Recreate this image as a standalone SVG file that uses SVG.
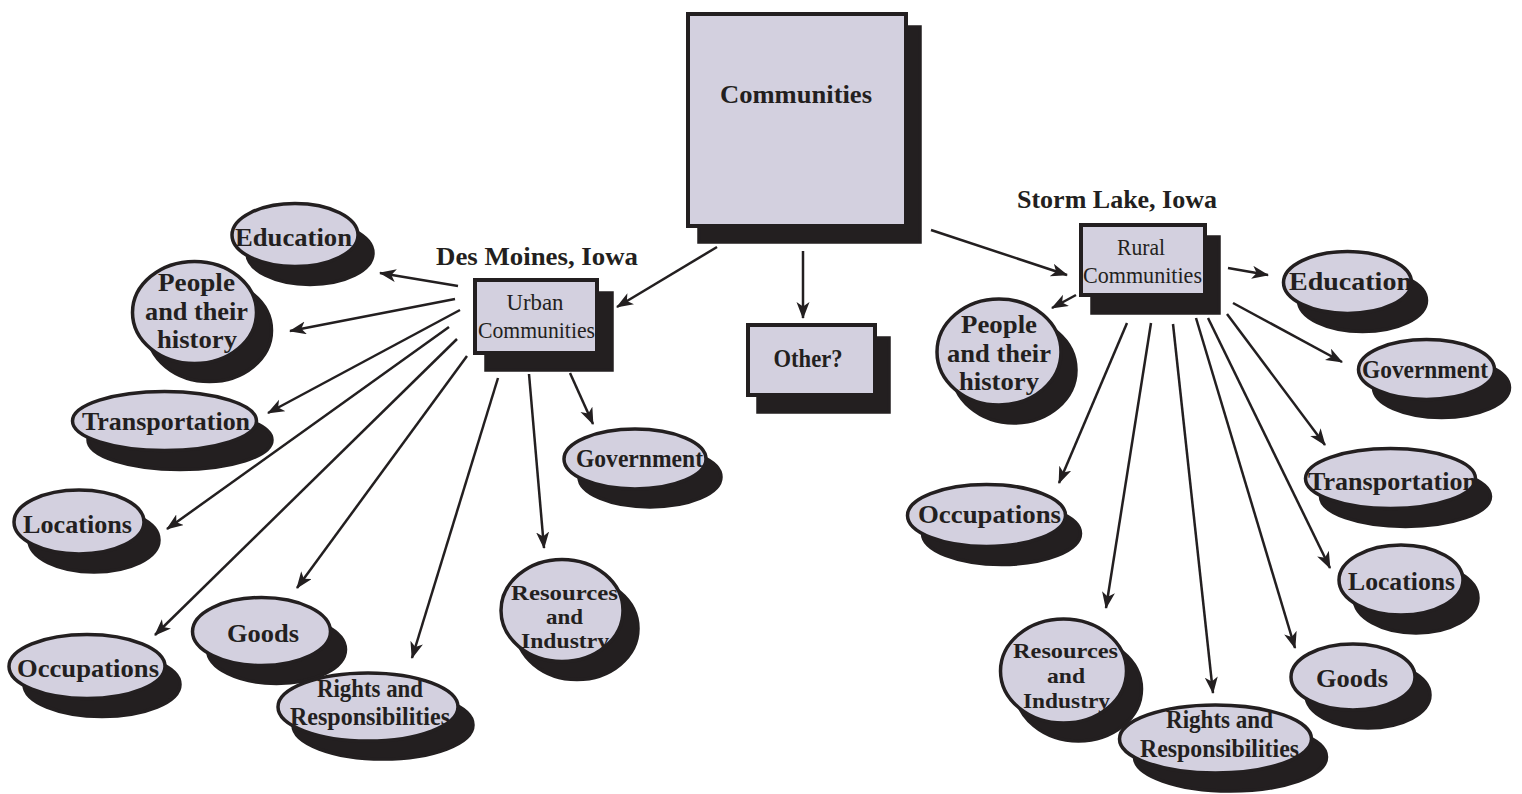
<svg xmlns="http://www.w3.org/2000/svg" width="1522" height="794" viewBox="0 0 1522 794">
<defs>
<style>
.bg{fill:#ffffff}
.box{fill:#d3d0df;stroke:#231f20;stroke-width:4}
.shadow{fill:#231f20;stroke:#231f20;stroke-width:3.5}
.oval{fill:#d3d0df;stroke:#231f20;stroke-width:3.5}
.lbl{font-family:"Liberation Serif","Times New Roman",serif;font-weight:bold;font-size:26px;fill:#231f20;text-anchor:middle}
.tight{font-size:22px}
.sub{font-family:"Liberation Serif","Times New Roman",serif;font-weight:normal;font-size:24px;fill:#231f20;text-anchor:middle}
.edge{fill:none;stroke:#231f20;stroke-width:2.5;marker-end:url(#arrow)}
</style>
<marker id="arrow" markerUnits="userSpaceOnUse" markerWidth="18" markerHeight="14" refX="16" refY="6.5" orient="auto">
<path d="M0,0 L17,6.5 L0,13 L4.5,6.5 Z" fill="#231f20"/>
</marker>
</defs>
<rect class="bg" x="0" y="0" width="1522" height="794"/>

<g id="communities">
<rect class="shadow" x="699" y="27" width="221" height="215" stroke-width="0"/>
<rect class="box" x="688" y="14" width="218" height="212"/>
<text class="lbl" x="796" y="103" textLength="152" lengthAdjust="spacingAndGlyphs">Communities</text>
</g>

<g id="other">
<rect class="shadow" x="758" y="338" width="131" height="74" stroke-width="0"/>
<rect class="box" x="748" y="325" width="127" height="70"/>
<text class="lbl" x="808" y="367" font-size="24" textLength="69" lengthAdjust="spacingAndGlyphs">Other?</text>
</g>

<g id="urban">
<text class="lbl" x="537" y="265" textLength="202" lengthAdjust="spacingAndGlyphs">Des Moines, Iowa</text>
<rect class="shadow" x="486" y="293" width="126" height="77" stroke-width="0"/>
<rect class="box" x="475" y="280" width="122" height="73"/>
<text class="sub" x="535" y="310" textLength="57" lengthAdjust="spacingAndGlyphs">Urban</text>
<text class="sub" x="536.5" y="338" textLength="117" lengthAdjust="spacingAndGlyphs">Communities</text>
</g>

<g id="rural">
<text class="lbl" x="1117" y="208" textLength="200" lengthAdjust="spacingAndGlyphs">Storm Lake, Iowa</text>
<rect class="shadow" x="1092" y="237" width="127" height="76" stroke-width="0"/>
<rect class="box" x="1081" y="225" width="124" height="70"/>
<text class="sub" x="1141" y="255" textLength="48" lengthAdjust="spacingAndGlyphs">Rural</text>
<text class="sub" x="1142.5" y="283" textLength="119" lengthAdjust="spacingAndGlyphs">Communities</text>
</g>

<!-- Left cluster -->
<g id="education-l">
<ellipse class="shadow" cx="310" cy="253" rx="63" ry="31.5"/>
<ellipse class="oval" cx="295" cy="235" rx="63" ry="31.5"/>
<text class="lbl" x="293.5" y="246" textLength="117" lengthAdjust="spacingAndGlyphs">Education</text>
</g>
<g id="people-l">
<ellipse class="shadow" cx="209.5" cy="330.5" rx="62" ry="51"/>
<ellipse class="oval" cx="194.5" cy="312.5" rx="62" ry="51"/>
<text class="lbl" x="196.5" y="291" textLength="77" lengthAdjust="spacingAndGlyphs">People</text>
<text class="lbl" x="196.5" y="320" textLength="103" lengthAdjust="spacingAndGlyphs">and their</text>
<text class="lbl" x="197" y="348" textLength="80" lengthAdjust="spacingAndGlyphs">history</text>
</g>
<g id="transportation-l">
<ellipse class="shadow" cx="180" cy="440" rx="92" ry="29.5"/>
<ellipse class="oval" cx="164.5" cy="421" rx="92" ry="29.5"/>
<text class="lbl" x="166" y="430" textLength="168" lengthAdjust="spacingAndGlyphs">Transportation</text>
</g>
<g id="locations-l">
<ellipse class="shadow" cx="94" cy="540" rx="65" ry="32"/>
<ellipse class="oval" cx="79" cy="522" rx="65" ry="32"/>
<text class="lbl" x="77.5" y="533" textLength="109" lengthAdjust="spacingAndGlyphs">Locations</text>
</g>
<g id="occupations-l">
<ellipse class="shadow" cx="102" cy="684.5" rx="78" ry="32"/>
<ellipse class="oval" cx="87" cy="666.5" rx="78" ry="32"/>
<text class="lbl" x="88" y="677" textLength="142" lengthAdjust="spacingAndGlyphs">Occupations</text>
</g>
<g id="goods-l">
<ellipse class="shadow" cx="276.5" cy="649.5" rx="69" ry="34"/>
<ellipse class="oval" cx="261.5" cy="631.5" rx="69" ry="34"/>
<text class="lbl" x="263" y="642" textLength="72" lengthAdjust="spacingAndGlyphs">Goods</text>
</g>
<g id="rights-l">
<ellipse class="shadow" cx="383" cy="725" rx="90" ry="34"/>
<ellipse class="oval" cx="368" cy="707" rx="90" ry="34"/>
<text class="lbl" x="370" y="697" textLength="106" lengthAdjust="spacingAndGlyphs">Rights and</text>
<text class="lbl" x="370" y="725" textLength="160" lengthAdjust="spacingAndGlyphs">Responsibilities</text>
</g>
<g id="resources-l">
<ellipse class="shadow" cx="577" cy="628.5" rx="61" ry="51"/>
<ellipse class="oval" cx="562" cy="610.5" rx="61" ry="51"/>
<text class="lbl tight" x="564.5" y="600" textLength="107" lengthAdjust="spacingAndGlyphs">Resources</text>
<text class="lbl tight" x="564.5" y="624" textLength="37" lengthAdjust="spacingAndGlyphs">and</text>
<text class="lbl tight" x="565" y="648" textLength="88" lengthAdjust="spacingAndGlyphs">Industry</text>
</g>
<g id="government-l">
<ellipse class="shadow" cx="650" cy="477" rx="71" ry="30"/>
<ellipse class="oval" cx="635" cy="459" rx="71" ry="30"/>
<text class="lbl" x="639.5" y="467" textLength="127" lengthAdjust="spacingAndGlyphs">Government</text>
</g>

<!-- Right cluster -->
<g id="people-r">
<ellipse class="shadow" cx="1014" cy="370" rx="62" ry="53"/>
<ellipse class="oval" cx="999" cy="352" rx="62" ry="53"/>
<text class="lbl" x="999" y="333" textLength="76" lengthAdjust="spacingAndGlyphs">People</text>
<text class="lbl" x="999" y="362" textLength="104" lengthAdjust="spacingAndGlyphs">and their</text>
<text class="lbl" x="999" y="390" textLength="80" lengthAdjust="spacingAndGlyphs">history</text>
</g>
<g id="education-r">
<ellipse class="shadow" cx="1362.5" cy="300.5" rx="64" ry="31"/>
<ellipse class="oval" cx="1347.5" cy="282.5" rx="64" ry="31"/>
<text class="lbl" x="1350.5" y="290" textLength="123" lengthAdjust="spacingAndGlyphs">Education</text>
</g>
<g id="government-r">
<ellipse class="shadow" cx="1441.5" cy="387.5" rx="68" ry="30"/>
<ellipse class="oval" cx="1426.5" cy="369.5" rx="68" ry="30"/>
<text class="lbl" x="1425" y="378" textLength="126" lengthAdjust="spacingAndGlyphs">Government</text>
</g>
<g id="transportation-r">
<ellipse class="shadow" cx="1405.5" cy="496.5" rx="85" ry="30"/>
<ellipse class="oval" cx="1390.5" cy="478.5" rx="85" ry="30"/>
<text class="lbl" x="1392.5" y="490" textLength="169" lengthAdjust="spacingAndGlyphs">Transportation</text>
</g>
<g id="locations-r">
<ellipse class="shadow" cx="1416" cy="598" rx="62" ry="35"/>
<ellipse class="oval" cx="1401" cy="580" rx="62" ry="35"/>
<text class="lbl" x="1401.5" y="590" textLength="107" lengthAdjust="spacingAndGlyphs">Locations</text>
</g>
<g id="occupations-r">
<ellipse class="shadow" cx="1001.5" cy="533.5" rx="79" ry="31"/>
<ellipse class="oval" cx="986.5" cy="515.5" rx="79" ry="31"/>
<text class="lbl" x="989.5" y="523" textLength="143" lengthAdjust="spacingAndGlyphs">Occupations</text>
</g>
<g id="resources-r">
<ellipse class="shadow" cx="1078.5" cy="689" rx="63" ry="52"/>
<ellipse class="oval" cx="1063.5" cy="671" rx="63" ry="52"/>
<text class="lbl tight" x="1065.5" y="658" textLength="105" lengthAdjust="spacingAndGlyphs">Resources</text>
<text class="lbl tight" x="1066" y="683" textLength="38" lengthAdjust="spacingAndGlyphs">and</text>
<text class="lbl tight" x="1066.5" y="708" textLength="87" lengthAdjust="spacingAndGlyphs">Industry</text>
</g>
<g id="goods-r">
<ellipse class="shadow" cx="1368" cy="695" rx="62" ry="33"/>
<ellipse class="oval" cx="1353" cy="677" rx="62" ry="33"/>
<text class="lbl" x="1352" y="687" textLength="72" lengthAdjust="spacingAndGlyphs">Goods</text>
</g>
<g id="rights-r">
<ellipse class="shadow" cx="1230.5" cy="757" rx="96" ry="34"/>
<ellipse class="oval" cx="1215.5" cy="739" rx="96" ry="34"/>
<text class="lbl" x="1219.5" y="728" textLength="107" lengthAdjust="spacingAndGlyphs">Rights and</text>
<text class="lbl" x="1219.5" y="757" textLength="159" lengthAdjust="spacingAndGlyphs">Responsibilities</text>
</g>

<g id="connectors">
<line class="edge" x1="717" y1="247" x2="617" y2="307"/>
<line class="edge" x1="803" y1="251" x2="803" y2="318"/>
<line class="edge" x1="931" y1="230" x2="1067" y2="275"/>

<line class="edge" x1="458" y1="286" x2="380" y2="273"/>
<line class="edge" x1="455" y1="299" x2="290" y2="331"/>
<line class="edge" x1="460" y1="310" x2="268" y2="413"/>
<line class="edge" x1="449" y1="327" x2="167" y2="529"/>
<line class="edge" x1="457" y1="339" x2="155" y2="635"/>
<line class="edge" x1="467" y1="356" x2="297" y2="588"/>
<line class="edge" x1="498" y1="378" x2="412" y2="658"/>
<line class="edge" x1="529" y1="374" x2="544" y2="548"/>
<line class="edge" x1="570" y1="373" x2="593" y2="424"/>

<line class="edge" x1="1228" y1="268" x2="1268" y2="275"/>
<line class="edge" x1="1076" y1="295" x2="1052" y2="308"/>
<line class="edge" x1="1233" y1="303" x2="1342" y2="362"/>
<line class="edge" x1="1227" y1="314" x2="1325" y2="445"/>
<line class="edge" x1="1208" y1="318" x2="1330" y2="568"/>
<line class="edge" x1="1196" y1="318" x2="1295" y2="648"/>
<line class="edge" x1="1173" y1="324" x2="1213" y2="693"/>
<line class="edge" x1="1151" y1="323" x2="1106" y2="608"/>
<line class="edge" x1="1127" y1="323" x2="1059" y2="483"/>
</g>
</svg>
